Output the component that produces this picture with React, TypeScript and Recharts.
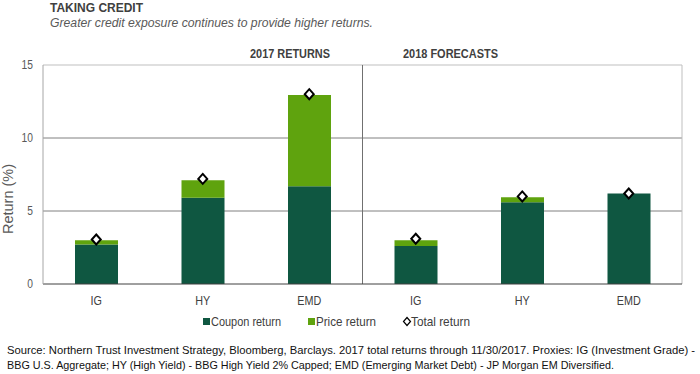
import React from "react";
import { ComposedChart, Bar, Line, XAxis, YAxis, CartesianGrid, ReferenceLine } from "recharts";

const categories = ["IG", "HY", "EMD", "IG", "HY", "EMD"];
const periods = ["2017", "2017", "2017", "2018", "2018", "2018"];
const couponReturn = [2.7, 5.9, 6.7, 2.6, 5.6, 6.2];
const priceReturn = [0.3, 1.2, 6.25, 0.4, 0.35, 0];
const totalReturn = [3.05, 7.2, 13.0, 3.1, 6.0, 6.2];
const yTicks = [0, 5, 10, 15];

const data = categories.map((c, i) => ({
  key: `${c} ${periods[i]}`,
  coupon: couponReturn[i],
  price: priceReturn[i],
  total: totalReturn[i],
}));

const COUPON = "#0F5741";
const PRICE = "#5FA30E";
const FONT = '"Liberation Sans", Arial, sans-serif';

function Diamond(props: any) {
  const { cx, cy } = props;
  if (cx == null || cy == null) return null;
  return (
    <polygon
      points={`${cx},${cy - 5} ${cx + 4.5},${cy} ${cx},${cy + 5} ${cx - 4.5},${cy}`}
      fill="#fff"
      stroke="#000"
      strokeWidth={2}
    />
  );
}

// narrow-looking ticks: the reference uses a condensed face we don't have
function XTick(props: any) {
  const { x, y, payload } = props;
  return (
    <g transform={`translate(${x},${y})`}>
      <text transform="scale(0.83,1)" textAnchor="middle" dy="0.71em" fill="#404040" fontSize={13} fontFamily={FONT}>
        {String(payload.value).split(" ")[0]}
      </text>
    </g>
  );
}

function YTick(props: any) {
  const { x, y, payload } = props;
  return (
    <g transform={`translate(${x},${y})`}>
      <text transform="scale(0.82,1)" textAnchor="end" dy="0.35em" fill="#595959" fontSize={12.5} fontFamily={FONT}>
        {payload.value}
      </text>
    </g>
  );
}

export default function App() {
  return (
    <div style={{ position: "absolute", left: 0, top: 0, width: 700, height: 374, background: "#fff" }}>
      <ComposedChart
        width={700}
        height={374}
        data={data}
        margin={{ top: 65, right: 18, bottom: 60, left: 0 }}
        style={{ position: "absolute", left: 0, top: 0 }}
      >
        <CartesianGrid vertical={false} stroke="#808080" horizontalValues={[5, 10]} />
        <XAxis
          dataKey="key"
          height={30}
          tickLine={false}
          tickMargin={6}
          axisLine={{ stroke: "#404040" }}
          tick={<XTick />}
          interval={0}
        />
        <YAxis
          width={43}
          domain={[0, 15]}
          ticks={yTicks}
          tickLine={false}
          tickMargin={4}
          axisLine={{ stroke: "#a6a6a6" }}
          tick={<YTick />}
        />
        <ReferenceLine y={15} stroke="#bfbfbf" />
        <ReferenceLine x="EMD 2017" position="end" stroke="#707070" />
        <ReferenceLine x="EMD 2018" position="end" stroke="#bfbfbf" />
        <Bar dataKey="coupon" stackId="a" fill={COUPON} barSize={43} isAnimationActive={false} />
        <Bar dataKey="price" stackId="a" fill={PRICE} barSize={43} isAnimationActive={false} />
        <Line dataKey="total" stroke="none" dot={<Diamond />} activeDot={false} isAnimationActive={false} />
      </ComposedChart>

      <svg width={700} height={374} style={{ position: "absolute", left: 0, top: 0, pointerEvents: "none" }} fontFamily={FONT}>
        <text x={50} y={12} fontSize={12} fontWeight="bold" fill="#404040" textLength={93} lengthAdjust="spacingAndGlyphs">
          TAKING CREDIT
        </text>
        <text x={50} y={27} fontSize={12} fontStyle="italic" fill="#595959" textLength={323} lengthAdjust="spacingAndGlyphs">
          Greater credit exposure continues to provide higher returns.
        </text>
        <text x={250} y={58} fontSize={12} fontWeight="bold" fill="#404040" textLength={80} lengthAdjust="spacingAndGlyphs">
          2017 RETURNS
        </text>
        <text x={403} y={58} fontSize={12} fontWeight="bold" fill="#404040" textLength={95} lengthAdjust="spacingAndGlyphs">
          2018 FORECASTS
        </text>
        <text
          transform="translate(13,199) rotate(-90)"
          textAnchor="middle"
          fontSize={14}
          fill="#595959"
          textLength={70}
          lengthAdjust="spacingAndGlyphs"
        >
          Return (%)
        </text>

        {/* legend */}
        <rect x={203} y={318} width={7} height={7} fill={COUPON} />
        <text x={211} y={325.5} fontSize={13} fill="#404040" textLength={70} lengthAdjust="spacingAndGlyphs">
          Coupon return
        </text>
        <rect x={308} y={318} width={7} height={7} fill={PRICE} />
        <text x={316} y={325.5} fontSize={13} fill="#404040" textLength={60} lengthAdjust="spacingAndGlyphs">
          Price return
        </text>
        <polygon points="407,317.5 410.5,321.5 407,325.5 403.5,321.5" fill="#fff" stroke="#000" strokeWidth={1.2} />
        <text x={411} y={325.5} fontSize={13} fill="#404040" textLength={59} lengthAdjust="spacingAndGlyphs">
          Total return
        </text>

        {/* source note */}
        <text x={7} y={354} fontSize={11} fill="#111" textLength={688} lengthAdjust="spacingAndGlyphs">
          Source: Northern Trust Investment Strategy, Bloomberg, Barclays. 2017 total returns through 11/30/2017. Proxies: IG (Investment Grade) -
        </text>
        <text x={7} y={369} fontSize={11} fill="#111" textLength={607} lengthAdjust="spacingAndGlyphs">
          BBG U.S. Aggregate; HY (High Yield) - BBG High Yield 2% Capped; EMD (Emerging Market Debt) - JP Morgan EM Diversified.
        </text>
      </svg>
    </div>
  );
}
